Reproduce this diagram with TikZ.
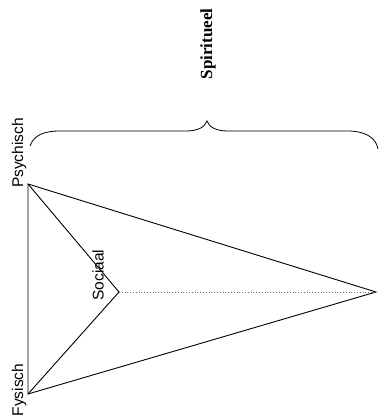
\documentclass[tikz,border=0pt]{standalone}
\usepackage{fontspec}
\setmainfont{Liberation Serif}
\setsansfont{Liberation Sans}
\begin{document}
\begin{tikzpicture}[x=1pt,y=1pt,
  edge/.style={line width=0.9pt},
  dotline/.style={line width=0.8pt,dotted,black!60},
  lbl/.style={font=\sffamily\fontsize{15.5}{16}\selectfont,rotate=90,inner sep=0pt}]
\useasboundingbox (0,0) rectangle (380,419);
\coordinate (P) at (28,235);
\coordinate (F) at (28,25);
\coordinate (S) at (119,127);
\coordinate (R) at (376,127);
\draw[edge] (P) -- (F) -- (R) -- cycle;
\draw[edge] (P) -- (S) -- (F);
\draw[dotline] (S) -- (R);
\node[lbl] (lp) at (19,266) {Psychisch};
\node[lbl] (lf) at (19,29) {Fysisch};
\node[lbl] (ls) at (98,144) {Sociaal};
\node[font=\rmfamily\bfseries\fontsize{17}{18}\selectfont,rotate=90,inner sep=0pt] (sp) at (208,375) {Spiritueel};
\coordinate (b1) at (30,273);
\coordinate (b2) at (60,288);
\coordinate (b3) at (186,288);
\coordinate (bt) at (207,298);
\coordinate (b4) at (228,288);
\coordinate (b5) at (348,288);
\coordinate (b6) at (378,270);
\draw[line width=0.8pt] (b1) .. controls (34,284) and (44,288) .. (b2) -- (b3)
  .. controls (198,288) and (205,292) .. (bt)
  .. controls (209,292) and (216,288) .. (b4) -- (b5)
  .. controls (364,288) and (376,282) .. (b6);
\end{tikzpicture}
\end{document}
